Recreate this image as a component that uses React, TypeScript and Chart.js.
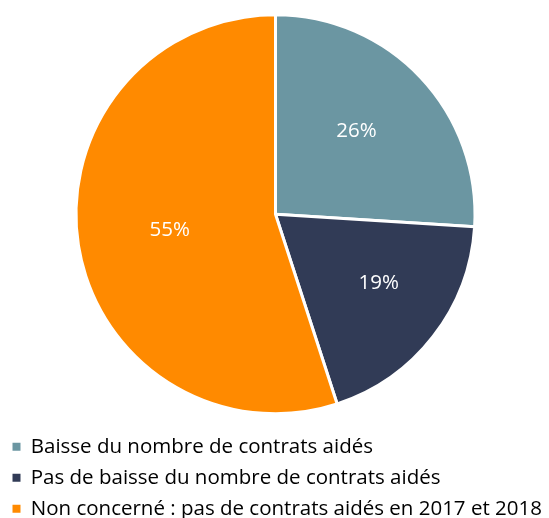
import React, { useEffect, useRef } from "react";
import { Chart, registerables } from "chart.js";

Chart.register(...registerables);

const categories = [
  "Baisse du nombre de contrats aidés",
  "Pas de baisse du nombre de contrats aidés",
  "Non concerné : pas de contrats aidés en 2017 et 2018",
];
const values = [26, 19, 55];
const valueLabels = ["26%", "19%", "55%"];
const colors = ["#6b96a2", "#313b56", "#ff8a00"];
// label placement relative to each slice: fraction of radius, angle shift (degrees)
const labelRadius = [0.585, 0.62, 0.535];
const labelAngleShift = [-2.9, -4.4, 1.1];

const labelPlugin = {
  id: "sliceLabels",
  afterDatasetsDraw(chart: any) {
    const ctx = chart.ctx;
    const meta = chart.getDatasetMeta(0);
    ctx.save();
    ctx.fillStyle = "#ffffff";
    ctx.font = "400 20.5px 'Open Sans'";
    ctx.textAlign = "center";
    ctx.textBaseline = "middle";
    meta.data.forEach((arc: any, i: number) => {
      const p = arc.getProps(["x", "y", "startAngle", "endAngle", "outerRadius"], true);
      const mid = (p.startAngle + p.endAngle) / 2 + (labelAngleShift[i] * Math.PI) / 180;
      const d = p.outerRadius * labelRadius[i];
      ctx.fillText(valueLabels[i], p.x + Math.cos(mid) * d, p.y + Math.sin(mid) * d + 1);
    });
    ctx.restore();
  },
};

export default function App() {
  const ref = useRef<HTMLCanvasElement>(null);
  useEffect(() => {
    const chart = new Chart(ref.current!, {
      type: "pie",
      data: {
        labels: categories,
        datasets: [
          {
            data: values,
            backgroundColor: colors,
            borderColor: "#ffffff",
            borderWidth: 3,
            radius: 199.5,
          },
        ],
      },
      options: {
        animation: false,
        responsive: false,
        layout: { padding: { top: 2.5, bottom: -11, left: 2 } },
        plugins: {
          tooltip: { enabled: false },
          legend: {
            position: "bottom",
            align: "start",
            labels: {
              boxWidth: 8,
              boxHeight: 8,
              padding: 10.5,
              color: "#595959",
              font: { family: "'Open Sans'", size: 20.5 },
              generateLabels: (c: any) =>
                categories.map((t, i) => ({
                  text: t,
                  fillStyle: colors[i],
                  strokeStyle: colors[i],
                  lineWidth: 0,
                  hidden: false,
                  index: i,
                })),
            },
          },
        },
      },
      plugins: [labelPlugin],
    });
    return () => chart.destroy();
  }, []);
  return (
    <div style={{ position: "absolute", left: 0, top: 0, width: 549, height: 518 }}>
      <canvas ref={ref} width={549} height={518} />
    </div>
  );
}
